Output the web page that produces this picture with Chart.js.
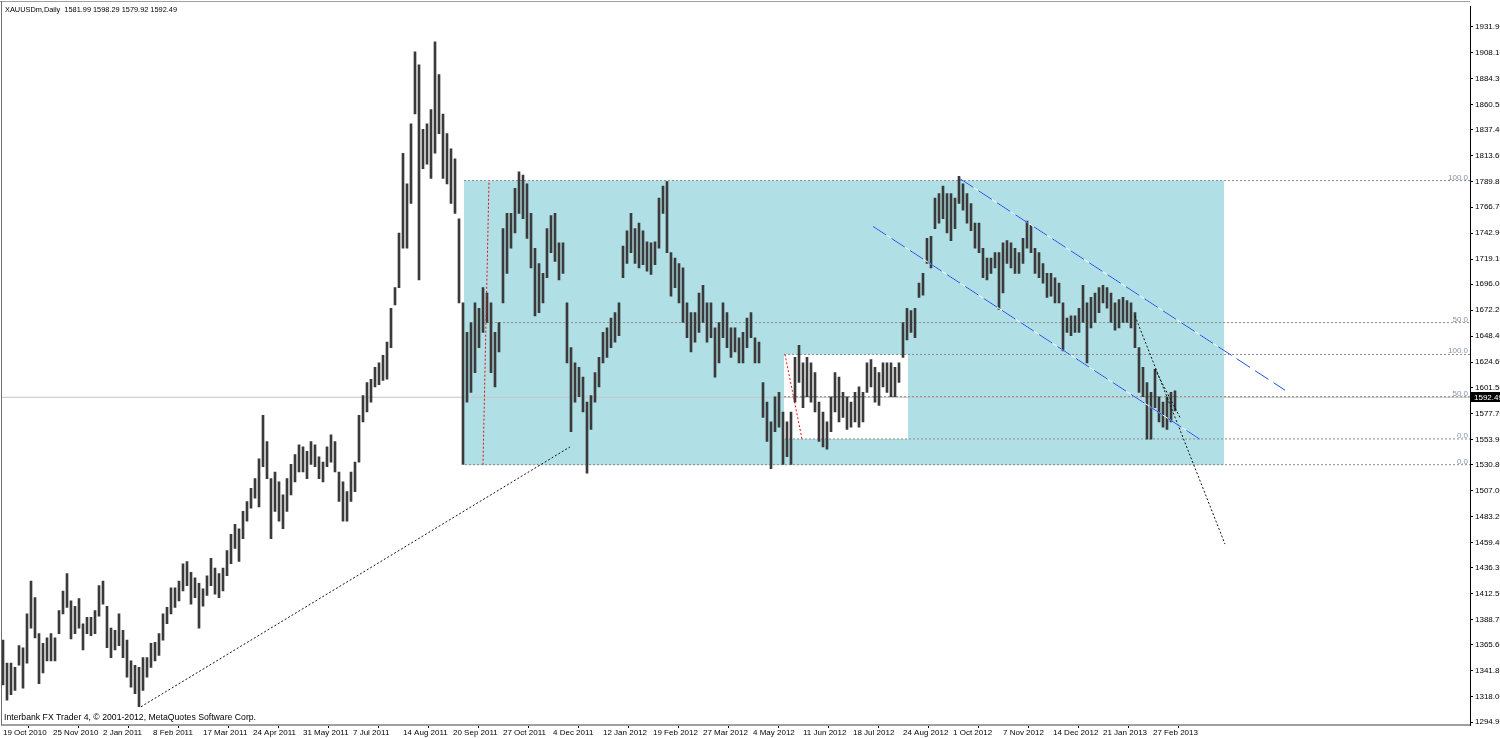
<!DOCTYPE html>
<html><head><meta charset="utf-8">
<script src="https://cdn.jsdelivr.net/npm/chart.js@4/dist/chart.umd.min.js"></script>
<style>html,body{margin:0;padding:0;background:#fff;overflow:hidden}canvas{display:block}</style>
</head><body>
<canvas id="c" width="1500" height="738"></canvas>
<script>
const SYMBOL_TITLE = 'XAUUSDm,Daily  1581.99 1598.29 1579.92 1592.49';
const COPYRIGHT = 'Interbank FX Trader 4, \u00A9 2001-2012, MetaQuotes Software Corp.';
const DATE_LABELS = ['19 Oct 2010','25 Nov 2010','2 Jan 2011','8 Feb 2011','17 Mar 2011','24 Apr 2011','31 May 2011','7 Jul 2011','14 Aug 2011','20 Sep 2011','27 Oct 2011','4 Dec 2011','12 Jan 2012','19 Feb 2012','27 Mar 2012','4 May 2012','11 Jun 2012','18 Jul 2012','24 Aug 2012','1 Oct 2012','7 Nov 2012','14 Dec 2012','21 Jan 2013','27 Feb 2013'];
const DATE_BAR_INDEX = [0,25,50,75,100,125,150,175,200,225,250,275,300,325,350,375,400,425,450,475,500,525,550,575];
const PRICE_TICKS = [1294.9,1318.0,1341.8,1365.6,1388.7,1412.5,1436.3,1459.4,1483.2,1507.0,1530.8,1553.9,1577.7,1601.5,1624.6,1648.4,1672.2,1696.0,1719.1,1742.9,1766.7,1789.8,1813.6,1837.4,1860.5,1884.3,1908.1,1931.9];
const BARS_PER_SAMPLE = 2;
const HIGH = [
1370,1349,1349,1345,1365,1363,1394,1424,1409,1376,
1367,1372,1376,1372,1397,1415,1431,1406,1401,1408,
1385,1391,1391,1397,1420,1424,1401,1381,1379,1394,
1379,1370,1351,1347,1345,1354,1354,1367,1368,1376,
1394,1400,1418,1418,1424,1440,1442,1432,1427,1422,
1417,1429,1445,1436,1431,1436,1452,1467,1476,1472,
1488,1497,1509,1518,1536,1576,1552,1518,1524,1515,
1503,1518,1531,1540,1549,1547,1543,1552,1549,1538,
1533,1547,1558,1552,1524,1515,1506,1524,1533,1576,
1594,1606,1609,1620,1624,1631,1643,1674,1693,1743,
1816,1788,1843,1909,1897,1838,1843,1856,1918,1888,
1852,1834,1820,1811,1756,1679,1652,1661,1679,1674,
1693,1688,1679,1652,1661,1747,1761,1761,1784,1799,
1796,1788,1761,1729,1715,1706,1747,1759,1761,1734,
1734,1679,1638,1624,1620,1611,1588,1594,1615,1629,
1652,1656,1665,1670,1679,1731,1745,1761,1747,1752,
1745,1735,1734,1735,1775,1786,1790,1725,1720,1715,
1711,1679,1670,1670,1688,1695,1679,1679,1656,1661,
1679,1670,1656,1656,1647,1652,1665,1670,1647,1643,
1606,1588,1570,1593,1597,1579,1570,1579,1629,1640,
1624,1629,1624,1615,1588,1579,1570,1593,1615,1611,
1597,1593,1588,1597,1602,1597,1624,1627,1620,1615,
1624,1624,1624,1620,1624,1661,1674,1672,1674,1697,
1706,1738,1740,1775,1779,1786,1779,1779,1775,1795,
1788,1779,1770,1752,1752,1729,1720,1720,1725,1725,
1734,1736,1734,1729,1725,1738,1754,1750,1729,1725,
1715,1706,1706,1702,1697,1679,1665,1667,1667,1674,
1695,1679,1684,1688,1693,1695,1693,1688,1679,1682,
1684,1681,1679,1670,1638,1620,1606,1597,1618,1593,
1588,1593,1597,1598.29];
const LOW = [
1329,1315,1320,1324,1347,1326,1349,1381,1372,1330,
1340,1351,1351,1351,1376,1394,1400,1371,1376,1381,
1361,1376,1374,1376,1392,1403,1363,1354,1361,1365,
1354,1336,1327,1321,1309,1324,1336,1345,1351,1356,
1370,1385,1394,1400,1406,1415,1420,1403,1409,1381,
1401,1411,1420,1412,1409,1415,1429,1440,1454,1442,
1463,1479,1491,1500,1492,1529,1518,1463,1488,1479,
1472,1488,1503,1515,1524,1524,1518,1531,1529,1518,
1515,1529,1533,1524,1497,1479,1479,1497,1506,1533,
1570,1579,1588,1602,1604,1608,1609,1638,1677,1693,
1729,1729,1770,1852,1700,1802,1806,1793,1816,1834,
1793,1788,1770,1761,1679,1531,1588,1597,1615,1638,
1652,1661,1615,1602,1634,1679,1706,1729,1743,1761,
1756,1738,1711,1667,1670,1679,1702,1725,1717,1700,
1706,1624,1561,1588,1593,1579,1523,1563,1588,1602,
1624,1629,1638,1643,1649,1702,1715,1725,1715,1711,
1714,1708,1705,1714,1729,1761,1725,1685,1693,1679,
1661,1647,1634,1643,1652,1661,1643,1647,1611,1624,
1647,1638,1629,1634,1624,1624,1638,1647,1624,1624,
1574,1552,1527,1561,1565,1531,1538,1531,1588,1606,
1583,1593,1588,1579,1552,1547,1545,1561,1579,1570,
1574,1563,1565,1570,1565,1570,1597,1602,1588,1585,
1602,1597,1593,1593,1606,1629,1645,1652,1647,1684,
1686,1715,1711,1747,1752,1756,1743,1736,1747,1770,
1764,1752,1745,1729,1725,1702,1700,1706,1711,1673,
1688,1715,1711,1706,1706,1715,1729,1725,1706,1702,
1697,1684,1685,1679,1679,1635,1652,1649,1652,1652,
1661,1624,1656,1661,1670,1679,1674,1661,1654,1656,
1661,1661,1656,1638,1597,1593,1554,1554,1583,1570,
1565,1563,1570,1579.92];
const LAST_PRICE = 1592.49;
// [startBar, endBar, lowPrice, highPrice]
const BLUE_BOX = [230.5, 610.5, 1530.5, 1791];
const WHITE_BOX = [390.5, 452.5, 1554.3, 1631.7];
// fibo levels: [startBar, price, label]
const FIB_LEVELS = [[230.5,1791,'100.0'],[240,1660.9,'50.0'],[231,1530.7,'0.0'],[390.5,1631.7,'100.0'],[390.5,1593,'50.0'],[391,1554.3,'0.0']];
const FIB_ANCHOR_1 = [[240,1530.7],[243,1791]];
const FIB_ANCHOR_2 = [[391,1631.7],[399.5,1554.3]];
const TREND_UP = [[69,1309],[283.5,1547]];
const PROJ_1 = [[566,1667],[611,1458]];
const PROJ_2 = [[576,1618],[588.5,1574]];
const CH_UPPER = [[478.5,1792.7],[641,1599]];
const CH_LOWER = [[435,1749],[598.5,1554]];
const X_MIN = -0.5, X_MAX = 733.5, Y_MIN = 1292.25, Y_MAX = 1950.2;

const pts = a => a.map(p => ({x: p[0], y: p[1]}));
const bars = HIGH.map((h, k) => ({x: k * BARS_PER_SAMPLE, y: [LOW[k], h]}));
const FONT = 'Liberation Sans';

function lineDs(points, color, dash, order, width) {
  return {type: 'line', data: pts(points), borderColor: color, borderWidth: width || 1, borderDash: dash || [],
    pointRadius: 0, fill: false, tension: 0, order: order};
}
function boxDs(box, color, order) {
  return {type: 'line', data: [{x: box[0], y: box[3]}, {x: box[1], y: box[3]}], borderWidth: 0, borderColor: 'rgba(0,0,0,0)',
    backgroundColor: color, pointRadius: 0, fill: {value: box[2]}, order: order};
}

const datasets = [
  boxDs(BLUE_BOX, '#b0e0e6', 20),
  boxDs(WHITE_BOX, '#ffffff', 19),
  lineDs([[X_MIN, LAST_PRICE], [X_MAX, LAST_PRICE]], '#c4c4c4', [], 18),
];
FIB_LEVELS.forEach(f => datasets.push(lineDs([[f[0], f[1]], [X_MAX, f[1]]], '#8a8a8a', [2, 2], 17)));
datasets.push({type: 'bar', data: bars, backgroundColor: '#3a3a3a', borderWidth: 0, barThickness: 2, order: 10});
datasets.push(lineDs(FIB_ANCHOR_1, '#e01010', [2, 2], 5));
datasets.push(lineDs(FIB_ANCHOR_2, '#e01010', [2, 2], 5));
datasets.push(lineDs(TREND_UP, '#111111', [2, 2], 4));
datasets.push(lineDs(PROJ_1, '#111111', [2, 2], 4));
datasets.push(lineDs(PROJ_2, '#111111', [2, 2], 4));
datasets.push(lineDs(CH_UPPER, '#ffffff', [], 3));
datasets.push(lineDs(CH_LOWER, '#ffffff', [], 3));
datasets.push(lineDs(CH_UPPER, '#1f4fe6', [16, 6], 2));
datasets.push(lineDs(CH_LOWER, '#1f4fe6', [16, 6], 2));

const overlay = {
  id: 'overlay',
  afterDraw(chart) {
    const ctx = chart.ctx, ys = chart.scales.y, ca = chart.chartArea;
    ctx.save();
    ctx.fillStyle = '#a0a0a0';
    ctx.fillRect(0, 1, ca.right, 1);
    ctx.fillStyle = '#707070';
    ctx.fillRect(1, 1, 1, ca.bottom - 1);
    // fib labels
    ctx.font = '8px ' + FONT;
    ctx.fillStyle = '#8593a6';
    ctx.textAlign = 'right';
    ctx.textBaseline = 'bottom';
    FIB_LEVELS.forEach(f => ctx.fillText(f[2], ca.right - 2, Math.round(ys.getPixelForValue(f[1])) + 1));
    // title
    ctx.fillStyle = '#000';
    ctx.textAlign = 'left';
    ctx.textBaseline = 'middle';
    ctx.font = '8px ' + FONT;
    ctx.fillText(SYMBOL_TITLE, 5, 10, 172);
    ctx.font = '9px ' + FONT;
    ctx.fillText(COPYRIGHT, 4, 718, 252);
    // bid price box
    const py = Math.round(ys.getPixelForValue(LAST_PRICE));
    ctx.fillStyle = '#000';
    ctx.fillRect(ca.right + 1, py - 5, 40, 10);
    ctx.fillStyle = '#fff';
    ctx.font = '8px ' + FONT;
    ctx.fillText(LAST_PRICE.toFixed(2), ca.right + 4, py + 0.5);
    ctx.restore();
  }
};

new Chart(document.getElementById('c'), {
  type: 'bar',
  data: {datasets},
  plugins: [overlay],
  options: {
    responsive: false, animation: false, events: [],
    layout: {padding: {left: 2, top: 2, right: 0, bottom: 0}},
    plugins: {legend: {display: false}, tooltip: {enabled: false}},
    scales: {
      x: {
        type: 'linear', min: X_MIN, max: X_MAX, offset: false,
        afterBuildTicks: s => { s.ticks = DATE_BAR_INDEX.map(v => ({value: v})); },
        afterFit: s => { s.height = 13; },
        ticks: {callback: (v, i) => DATE_LABELS[i], align: 'start', maxRotation: 0, minRotation: 0, autoSkip: false,
          font: {family: FONT, size: 8}, color: '#000', padding: 0},
        grid: {drawOnChartArea: false, drawTicks: true, tickLength: 3, color: '#000'},
        border: {display: true, color: '#a0a0a0', width: 2}
      },
      y: {
        type: 'linear', position: 'right', min: Y_MIN, max: Y_MAX,
        afterBuildTicks: s => { s.ticks = PRICE_TICKS.map(v => ({value: v})); },
        afterFit: s => { s.width = 30; },
        ticks: {callback: v => v.toFixed(2), autoSkip: false, font: {family: FONT, size: 8}, color: '#000', padding: 2, crossAlign: 'near'},
        grid: {drawOnChartArea: false, drawTicks: true, tickLength: 3, color: '#000'},
        border: {display: true, color: '#000', width: 1}
      }
    }
  }
});
</script>
</body></html>
